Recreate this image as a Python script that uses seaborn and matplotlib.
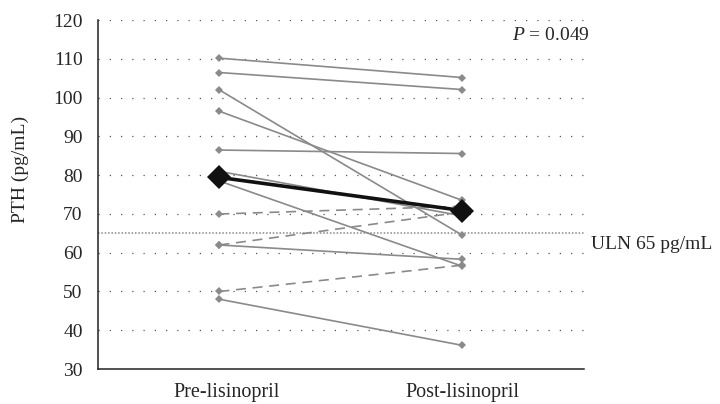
import matplotlib
matplotlib.use("Agg")
import matplotlib.pyplot as plt
import matplotlib.transforms as mtransforms
import seaborn as sns
import pandas as pd
from matplotlib.ticker import FixedLocator

# ---- data ----
times = ["Pre-lisinopril", "Post-lisinopril"]
subjects = ["S1", "S2", "S3", "S4", "S5", "S6", "S7", "S8", "S9", "S10", "S11", "S12"]
pre_values = [110.2, 106.5, 102.0, 96.5, 86.5, 81.0, 78.5, 70.0, 62.0, 62.0, 50.0, 48.0]
post_values = [105.2, 102.1, 64.5, 73.5, 85.6, 69.5, 56.5, 72.0, 58.3, 70.5, 56.8, 36.1]
line_kind = ["solid", "solid", "solid", "solid", "solid", "solid", "solid",
             "dashed", "solid", "dashed", "dashed", "solid"]
y_ticks = [30, 40, 50, 60, 70, 80, 90, 100, 110, 120]
uln_value = 65
p_text = "$\\it{P}$ = 0.049"
uln_text = "ULN 65 pg/mL"
y_label = "PTH (pg/mL)"

rows = []
for s, a, b, k in zip(subjects, pre_values, post_values, line_kind):
    rows.append({"subject": s, "time": times[0], "value": a, "kind": k})
    rows.append({"subject": s, "time": times[1], "value": b, "kind": k})
df = pd.DataFrame(rows)
df["pos"] = df["time"].map({t: i for i, t in enumerate(times)})

sns.set_style("white")
plt.rcParams["font.family"] = ["Liberation Serif", "DejaVu Serif"]
plt.rcParams["mathtext.fontset"] = "custom"
plt.rcParams["mathtext.it"] = "Liberation Serif:italic"
plt.rcParams["mathtext.rm"] = "Liberation Serif"

FS = 14

fig = plt.figure(figsize=(7.2, 4.04), dpi=100)
ax = fig.add_axes([0.136, 0.0866, 0.675, 0.8634])

# grid
for t in y_ticks[1:]:
    ax.axhline(t, color="#555555", lw=0.9, ls=(0, (1, 8)), zorder=0)
# ULN
ax.axhline(uln_value, color="#888888", lw=1.1, ls=(0, (1, 1.2)), zorder=1)

grey = "#8a8a8a"
solid = df[df["kind"] == "solid"]
dashed = df[df["kind"] == "dashed"]
sns.lineplot(data=solid, x="pos", y="value", units="subject", estimator=None,
             color=grey, lw=1.2, marker="D", markersize=4.5, markeredgewidth=0,
             ax=ax, legend=False, zorder=2)
sns.lineplot(data=dashed, x="pos", y="value", units="subject", estimator=None,
             color=grey, lw=1.2, marker="D", markersize=4.5, markeredgewidth=0,
             dashes=False, ls=(0, (6, 4)), ax=ax, legend=False, zorder=2)
# mean
sns.lineplot(data=df, x="pos", y="value", estimator="mean", errorbar=None,
             color="#111111", lw=2.6, marker="D", markersize=12.5,
             markeredgewidth=0, ax=ax, legend=False, zorder=4)

ax.set_xlim(-0.5, 1.5)
ax.set_ylim(30, 120)
ax.set_yticks(y_ticks)
ax.set_xticks([0, 1])
ax.set_xticklabels(times)
ax.xaxis.set_minor_locator(FixedLocator([0.5]))
ax.tick_params(axis="x", which="major", length=0, pad=10, labelsize=14.5)
ax.tick_params(axis="x", which="minor", length=4, width=1, direction="out", color="#333333")
ax.tick_params(axis="y", length=3, width=1, direction="out", labelsize=FS, pad=8, color="#333333")
ax.set_xlabel("")
ax.set_ylabel(y_label, fontsize=FS)
ax.yaxis.set_label_coords(-0.142, 0.572)

# small rightward offset of the first category label, as in the reference
lab0 = ax.get_xticklabels()[0]
lab0.set_transform(lab0.get_transform() + mtransforms.ScaledTranslation(7 / 100, 0, fig.dpi_scale_trans))

for side in ["top", "right"]:
    ax.spines[side].set_visible(False)
for side in ["left", "bottom"]:
    ax.spines[side].set_color("#222222")
    ax.spines[side].set_linewidth(1.1)

ax.text(1.525, 116, p_text, ha="right", va="center", fontsize=FS)
ax.text(1.53, 62.0, uln_text, ha="left", va="center", fontsize=FS, clip_on=False)

fig.savefig("out.png", dpi=100)
